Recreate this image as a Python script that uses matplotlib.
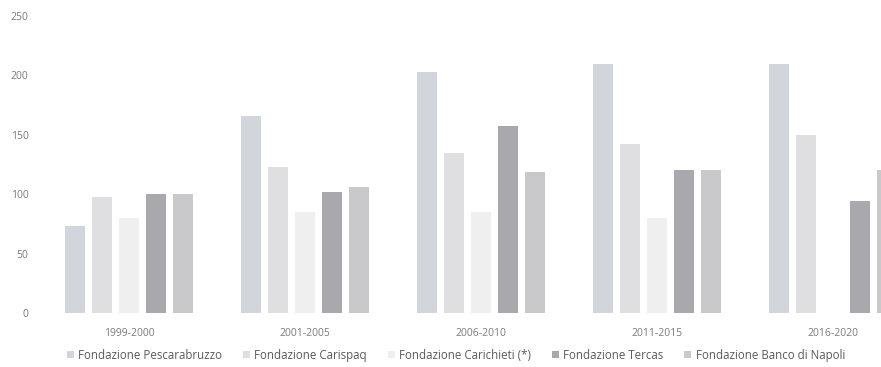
import matplotlib
matplotlib.use("Agg")
import matplotlib.pyplot as plt
import numpy as np

periods = ["1999-2000", "2001-2005", "2006-2010", "2011-2015", "2016-2020"]
series_names = ["Fondazione Pescarabruzzo", "Fondazione Carispaq",
                "Fondazione Carichieti (*)", "Fondazione Tercas",
                "Fondazione Banco di Napoli"]
pescarabruzzo = [73, 166, 203, 210, 210]
carispaq = [98, 123, 135, 142, 150]
carichieti = [80, 85, 85, 80, 0]
tercas = [100, 102, 157, 120, 94]
banco_napoli = [100, 106, 119, 120, 120]
yticks = [0, 50, 100, 150, 200, 250]

values = [pescarabruzzo, carispaq, carichieti, tercas, banco_napoli]
colors = ["#d3d5dc", "#dfdfe1", "#efefef", "#a9a9ad", "#c9c9cc"]

plt.rcParams['font.family'] = ['Open Sans', 'DejaVu Sans']
fig = plt.figure(figsize=(8.81, 3.67), dpi=100)
ax = fig.add_axes([41/881, (367-313)/367, 840/881, (313-16)/367])

x = np.arange(len(periods))
step = 27/176
width = 20/176
for i, (vals, c, name) in enumerate(zip(values, colors, series_names)):
    ax.bar(x + (i - 2) * step, vals, width, color=c, label=name)

ax.set_xlim(-0.5, -0.5 + 840/176)
ax.set_ylim(0, 250)
ax.set_yticks(yticks)
ax.set_xticks(x)
ax.set_xticklabels(periods)
for s in ax.spines.values():
    s.set_visible(False)
ax.tick_params(axis='both', length=0, labelsize=7.5, colors="#7a7a7a")
ax.tick_params(axis='y', pad=9)
ax.tick_params(axis='x', pad=11)

leg = ax.legend(loc='upper center', bbox_to_anchor=(415/840, -0.085), ncol=5,
                frameon=False, fontsize=8.3, handlelength=0.6, handleheight=0.6,
                handletextpad=0.4, columnspacing=1.8)
for t in leg.get_texts():
    t.set_color("#5a5a5a")

fig.savefig("out.png", dpi=100)
